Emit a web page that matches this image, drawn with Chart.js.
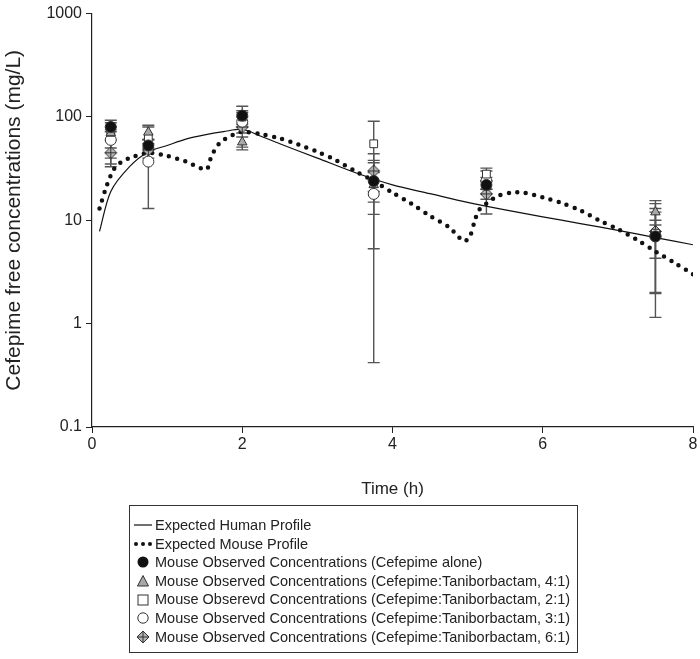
<!DOCTYPE html>
<html>
<head>
<meta charset="utf-8">
<script src="https://cdn.jsdelivr.net/npm/chart.js@4.4.0/dist/chart.umd.min.js"></script>
<style>
  html, body { margin: 0; padding: 0; background: #fff; }
  #wrap { position: relative; width: 700px; height: 659px; }
  #legend {
    position: absolute; left: 129px; top: 505px; width: 449px; height: 148px;
    border: 1px solid #333; box-sizing: border-box; padding: 10px 0 0 3px;
    font-family: "Liberation Sans", Arial, sans-serif; font-size: 14.5px; color: #222;
  }
  .row { height: 18.6px; line-height: 18.6px; display: flex; align-items: center; white-space: nowrap; }
  .row svg { width: 20px; height: 14px; margin-right: 2px; flex: none; }
</style>
</head>
<body>
<div id="wrap">
  <canvas id="chart" width="700" height="659"></canvas>
  <div id="legend"></div>
</div>
<script>
// Time points and values
const humanTimes = [0.1, 0.25, 0.5, 0.75, 1, 1.25, 1.5, 1.75, 2, 2.25, 2.5, 3, 3.5, 4, 4.5, 5, 5.5, 6, 6.5, 7, 7.5, 8];
const humanConc  = [7.8, 19, 33, 46, 53, 61, 67, 72, 76, 65, 55, 40, 29, 22, 18.1, 14.9, 12.6, 10.8, 9.3, 8.0, 6.8, 5.8];

const mouseTimes = [0.1, 0.2, 0.3, 0.4, 0.5, 0.75, 1.0, 1.25, 1.52, 1.57, 1.62, 1.7, 1.8, 1.9, 2.0, 2.25, 2.5, 2.75, 3.0, 3.25, 3.5, 3.75, 4.0, 4.25, 4.5, 4.75, 4.95, 5.03, 5.1, 5.15, 5.25, 5.4, 5.6, 5.75, 6.0, 6.25, 6.5, 6.75, 7.0, 7.25, 7.5, 7.75, 8.0];
const mouseConc  = [13, 22, 32, 37, 40, 45, 42, 37, 31, 38, 46, 56, 63, 68, 72, 68, 62, 54, 46, 38, 30, 24, 18.5, 14.5, 11, 8.6, 6.3, 7.0, 10.2, 12.5, 14.5, 17.2, 18.6, 18.5, 16.7, 14.7, 12.5, 10, 8.2, 6.5, 5.0, 3.9, 3.0];

const obsTimes = [0.25, 0.75, 2, 3.75, 5.25, 7.5];

const aloneConc = [80, 53, 103, 24, 22, 7];
const aloneLow  = [72, 45, 80, 11.4, 20, 1.95];
const aloneHigh = [93, 60, 127, 38, 26, 12];

const r41Conc = [70, 71, 57, 22, 21, 12];
const r41Low  = [60, 60, 51, 15, 18, 9];
const r41High = [75, 83, 64, 29, 24, 15.5];

const r21Conc = [71, 63, 100, 55, 28, 7.5];
const r21Low  = [35, 50, 85, 19, 24, 4.3];
const r21High = [88, 80, 115, 91, 32, 10];

const r31Conc = [60, 37, 90, 18, 24, 7];
const r31Low  = [33, 13, 70, 0.42, 11.5, 1.15];
const r31High = [80, 61, 110, 36, 30, 13];

const r61Conc = [45, 48, 80, 30, 18, 7.8];
const r61Low  = [40, 40, 48, 5.3, 16, 2.0];
const r61High = [50, 55, 100, 44, 20, 14.5];

const yTicks = [0.1, 1, 10, 100, 1000];
const xTicks = [0, 2, 4, 6, 8];

const FONT = '"Liberation Sans", Arial, sans-serif';

function pts(xs, ys) {
    return xs.map((x, i) => ({ x: x, y: ys[i] }));
}

// diamond with a cross inside
function makeDiamondCross(r) {
    const c = document.createElement('canvas');
    const s = r * 2 + 3;
    c.width = s; c.height = s;
    const g = c.getContext('2d');
    const m = s / 2;
    g.beginPath();
    g.moveTo(m, m - r); g.lineTo(m + r, m); g.lineTo(m, m + r); g.lineTo(m - r, m); g.closePath();
    g.fillStyle = '#b4b4b4'; g.fill();
    g.strokeStyle = '#333'; g.lineWidth = 1; g.stroke();
    g.beginPath();
    g.moveTo(m, m - r); g.lineTo(m, m + r);
    g.moveTo(m - r, m); g.lineTo(m + r, m);
    g.stroke();
    return c;
}
const diamondCross = makeDiamondCross(6);

// error bars drawn through the chart scales
const errorBars = {
    id: 'errorBars',
    beforeDatasetsDraw(chart) {
        const ctx = chart.ctx;
        const xs = chart.scales.x, ys = chart.scales.y;
        ctx.save();
        ctx.strokeStyle = '#555';
        ctx.lineWidth = 1.4;
        chart.data.datasets.forEach(ds => {
            if (!ds.errLow) return;
            ds.data.forEach((p, i) => {
                const x = xs.getPixelForValue(p.x);
                const yl = ys.getPixelForValue(ds.errLow[i]);
                const yh = ys.getPixelForValue(ds.errHigh[i]);
                ctx.beginPath();
                ctx.moveTo(x, yl); ctx.lineTo(x, yh);
                ctx.moveTo(x - 6, yl); ctx.lineTo(x + 6, yl);
                ctx.moveTo(x - 6, yh); ctx.lineTo(x + 6, yh);
                ctx.stroke();
            });
        });
        ctx.restore();
    }
};

function obsSet(label, conc, low, high, style, fill) {
    return {
        label: label,
        data: pts(obsTimes, conc),
        errLow: low,
        errHigh: high,
        showLine: false,
        pointStyle: style,
        pointRadius: 5.5,
        pointHoverRadius: 5.5,
        backgroundColor: fill,
        borderColor: '#333',
        borderWidth: 1,
        order: 1
    };
}

const datasets = [
    {
        label: 'Expected Human Profile',
        data: pts(humanTimes, humanConc),
        showLine: true,
        borderColor: '#111',
        borderWidth: 1.2,
        pointRadius: 0,
        tension: 0.3,
        order: 3
    },
    {
        label: 'Expected Mouse Profile',
        data: pts(mouseTimes, mouseConc),
        showLine: true,
        borderColor: '#111',
        borderWidth: 4.5,
        borderDash: [0, 8.5],
        borderCapStyle: 'round',
        pointRadius: 0,
        tension: 0.3,
        order: 2
    },
    obsSet('Mouse Observed Concentrations (Cefepime alone)', aloneConc, aloneLow, aloneHigh, 'circle', '#111'),
    obsSet('Mouse Observed Concentrations (Cefepime:Taniborbactam, 4:1)', r41Conc, r41Low, r41High, 'triangle', '#a8a8a8'),
    obsSet('Mouse Obserevd Concentrations (Cefepime:Taniborbactam, 2:1)', r21Conc, r21Low, r21High, 'rect', '#fff'),
    obsSet('Mouse Observed Concentrations (Cefepime:Taniborbactam, 3:1)', r31Conc, r31Low, r31High, 'circle', '#fff'),
    obsSet('Mouse Observed Concentrations (Cefepime:Taniborbactam, 6:1)', r61Conc, r61Low, r61High, diamondCross, '#b4b4b4')
];

new Chart(document.getElementById('chart').getContext('2d'), {
    type: 'scatter',
    data: { datasets: datasets },
    plugins: [errorBars],
    options: {
        responsive: false,
        animation: false,
        layout: { padding: { top: 10, right: 7, bottom: 155, left: 0 } },
        plugins: {
            legend: { display: false },
            tooltip: { enabled: false }
        },
        scales: {
            x: {
                type: 'linear',
                min: 0,
                max: 8,
                afterBuildTicks: s => { s.ticks = xTicks.map(v => ({ value: v })); },
                afterFit: s => { s.height = 77; },
                border: { color: '#222', width: 1.2 },
                grid: { drawOnChartArea: false, tickLength: 6, color: '#222' },
                ticks: { color: '#222', font: { family: FONT, size: 16 }, padding: 2 },
                title: { display: true, text: 'Time (h)', color: '#222', font: { family: FONT, size: 17 } }
            },
            y: {
                type: 'logarithmic',
                min: 0.1,
                max: 1000,
                afterBuildTicks: s => { s.ticks = yTicks.map(v => ({ value: v })); },
                afterFit: s => { s.width = 92; },
                border: { color: '#222', width: 1.2 },
                grid: { drawOnChartArea: false, tickLength: 6, color: '#222' },
                ticks: { color: '#222', font: { family: FONT, size: 16 }, padding: 4, callback: v => String(v) },
                title: { display: true, text: 'Cefepime free concentrations (mg/L)', color: '#222', font: { family: FONT, size: 21 }, padding: { top: 2, bottom: 0 } }
            }
        }
    }
});

// legend box below the plot
const legendSymbols = [
    '<svg viewBox="0 0 20 14"><line x1="1" y1="7" x2="19" y2="7" stroke="#111" stroke-width="1.2"/></svg>',
    '<svg viewBox="0 0 20 14"><circle cx="3" cy="7" r="2" fill="#111"/><circle cx="10" cy="7" r="2" fill="#111"/><circle cx="17" cy="7" r="2" fill="#111"/></svg>',
    '<svg viewBox="0 0 20 14"><circle cx="10" cy="7" r="5.5" fill="#111"/></svg>',
    '<svg viewBox="0 0 20 14"><polygon points="10,1.5 15.5,12 4.5,12" fill="#a8a8a8" stroke="#333"/></svg>',
    '<svg viewBox="0 0 20 14"><rect x="5" y="2" width="10" height="10" fill="#fff" stroke="#333"/></svg>',
    '<svg viewBox="0 0 20 14"><circle cx="10" cy="7" r="5.2" fill="#fff" stroke="#333"/></svg>',
    '<svg viewBox="0 0 20 14"><polygon points="10,1 16,7 10,13 4,7" fill="#b4b4b4" stroke="#333"/><path d="M10 1V13M4 7H16" stroke="#333"/></svg>'
];
document.getElementById('legend').innerHTML = datasets.map((ds, i) =>
    `<div class="row">${legendSymbols[i]}<span>${ds.label}</span></div>`).join('');
</script>
</body>
</html>
